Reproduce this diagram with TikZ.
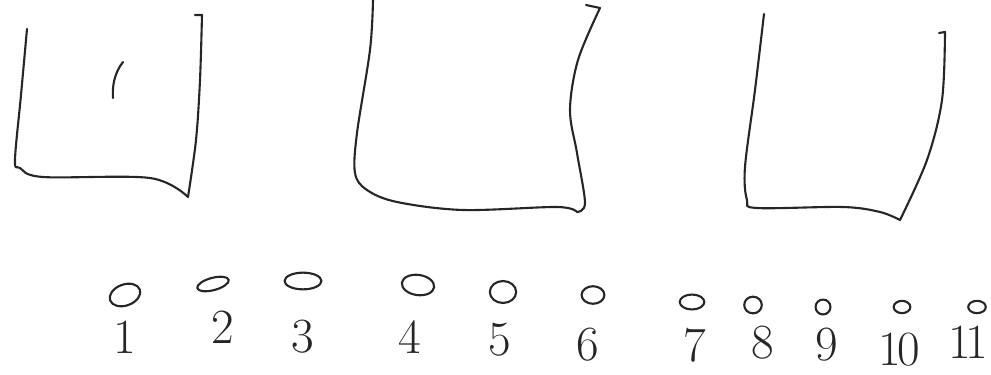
\documentclass[tikz,border=0pt]{standalone}
\usetikzlibrary{shapes.geometric}
\tikzset{
  % tratto a mano libera
  stroke/.style={line width=1.2pt,black!85,line cap=round,line join=round},
  % palline e numeri
  ball/.style={ellipse,draw,stroke,inner sep=0pt},
  num/.style={font=\fontsize{28}{30}\selectfont,text=black!85,inner sep=0pt}
}
\begin{document}
\begin{tikzpicture}[x=0.02cm,y=-0.02cm]
  \useasboundingbox (0,0) rectangle (991,375);
  % contenitori
  \draw[stroke] plot[smooth,tension=0.55] coordinates {(27,29) (21,95) (15,160) (20,168) (43,177) (150,178) (188,197)}
    -- plot[smooth,tension=0.55] coordinates {(188,197) (196,140) (200,80) (202,15)} -- (195,15);
  \draw[stroke] (123,62) .. controls (115,72) and (112,85) .. (113,98);
  \draw[stroke] plot[smooth,tension=0.55] coordinates {(373,0) (370,50) (357,133) (355,173) (367,190) (397,202) (463,210) (557,207) (577,212)}
    -- plot[smooth,tension=0.55] coordinates {(577,212) (585,203) (577,153) (570,110) (578,60) (600,8)} -- (586,5);
  \draw[stroke] plot[smooth,tension=0.55] coordinates {(764,14) (755,90) (745,167) (747,200) (757,208) (843,207) (880,212) (900,220)}
    -- plot[smooth,tension=0.55] coordinates {(900,220) (927,160) (942,100) (945,32)} -- (939,33);
  % palline
  \node[ball,minimum width=18pt,minimum height=12pt,rotate=20] (b1) at (125,295) {};
  \node[ball,minimum width=18.5pt,minimum height=7pt,rotate=15] (b2) at (213,284) {};
  \node[ball,minimum width=21pt,minimum height=9.5pt] (b3) at (303,281) {};
  \node[ball,minimum width=18.5pt,minimum height=11.5pt,rotate=-8] (b4) at (418,285) {};
  \node[ball,minimum width=15pt,minimum height=12.5pt] (b5) at (503,292) {};
  \node[ball,minimum width=13pt,minimum height=10pt] (b6) at (593,295) {};
  \node[ball,minimum width=14pt,minimum height=8.5pt] (b7) at (692,302) {};
  \node[ball,minimum width=10pt,minimum height=9.5pt] (b8) at (753,305) {};
  \node[ball,minimum width=8.5pt,minimum height=8.5pt] (b9) at (823,307) {};
  \node[ball,minimum width=9.5pt,minimum height=7pt] (b10) at (902,307) {};
  \node[ball,minimum width=10pt,minimum height=7pt] (b11) at (977,307) {};
  % numeri
  \node[num] (n1) at (125,337) {1};
  \node[num] (n2) at (223,327) {2};
  \node[num] (n3) at (303,337) {3};
  \node[num] (n4) at (410,337) {4};
  \node[num] (n5) at (500,340) {5};
  \node[num] (n6) at (588,345) {6};
  \node[num] (n7) at (695,345) {7};
  \node[num] (n8) at (763,343) {8};
  \node[num] (n9) at (827,345) {9};
  \node[num] (n10) at (899,350) {1\kern-2pt0};
  \node[num] (n11) at (968,342) {1\kern-3pt1};
\end{tikzpicture}
\end{document}
